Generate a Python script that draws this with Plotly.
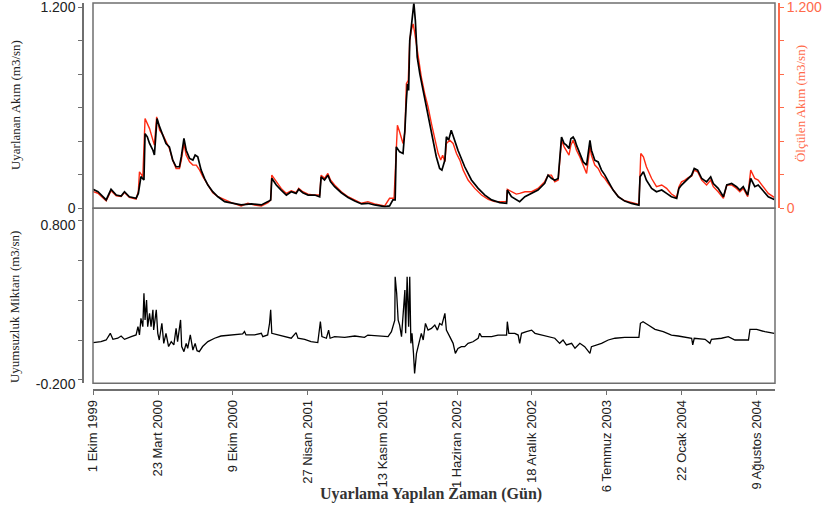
import pandas as pd
import plotly.graph_objects as go

START = "1999-10-01"

# Simulated (Uyarlanan) flow, m3/s  -- day offsets from 1 Oct 1999
sim_days = [0,13,35,48,62,75,84,97,115,121,128,136,139,145,151,160,164,171,178,187,195,204,213,222,231,236,243,249,258,267,273,280,289,298,307,320,334,352,370,396,423,450,468,475,478,490,503,517,530,543,550,561,575,593,606,610,619,628,635,646,664,682,700,718,735,753,780,793,802,808,811,820,829,834,838,841,844,847,851,858,862,867,874,883,892,900,909,918,927,933,941,945,951,958,967,976,994,1012,1030,1048,1066,1088,1106,1108,1119,1132,1141,1155,1173,1190,1208,1217,1226,1235,1244,1248,1253,1260,1266,1273,1278,1284,1289,1293,1302,1311,1320,1329,1333,1342,1351,1360,1369,1378,1391,1405,1422,1440,1460,1463,1472,1480,1494,1507,1521,1534,1547,1561,1567,1574,1583,1592,1601,1608,1617,1628,1641,1652,1659,1672,1686,1695,1708,1721,1730,1739,1751,1759,1770,1779,1793,1806,1822]
sim_vals = [0.113,0.099,0.050,0.113,0.079,0.073,0.099,0.069,0.060,0.089,0.189,0.169,0.446,0.427,0.387,0.347,0.318,0.536,0.486,0.427,0.387,0.367,0.288,0.248,0.248,0.308,0.417,0.347,0.298,0.288,0.318,0.308,0.228,0.179,0.139,0.099,0.069,0.040,0.030,0.020,0.026,0.020,0.040,0.050,0.179,0.139,0.109,0.079,0.099,0.089,0.113,0.093,0.079,0.079,0.069,0.188,0.169,0.198,0.159,0.129,0.093,0.065,0.044,0.026,0.030,0.020,0.010,0.014,0.050,0.050,0.367,0.337,0.327,0.466,0.645,0.744,0.704,1.002,1.081,1.226,1.121,0.903,0.803,0.704,0.605,0.506,0.407,0.308,0.238,0.228,0.288,0.427,0.407,0.466,0.407,0.347,0.248,0.169,0.119,0.079,0.050,0.034,0.030,0.109,0.069,0.050,0.040,0.069,0.089,0.109,0.149,0.198,0.179,0.168,0.178,0.307,0.426,0.387,0.377,0.357,0.416,0.426,0.406,0.377,0.327,0.277,0.258,0.406,0.347,0.287,0.277,0.228,0.198,0.158,0.109,0.069,0.043,0.029,0.019,0.188,0.218,0.168,0.119,0.099,0.109,0.089,0.069,0.059,0.119,0.139,0.158,0.178,0.198,0.238,0.228,0.178,0.158,0.188,0.148,0.119,0.069,0.139,0.148,0.129,0.109,0.129,0.079,0.178,0.129,0.139,0.099,0.069,0.053]

# Observed (Ölçülen) flow, m3/s
obs_days = [0,13,35,48,62,75,84,97,115,121,124,133,139,145,151,160,164,170,178,187,195,204,213,222,231,236,243,249,258,267,276,285,294,307,320,334,352,370,396,414,432,450,468,475,478,490,503,517,530,543,550,561,575,593,606,610,619,628,635,646,664,682,700,718,735,753,780,793,805,811,814,820,829,834,838,843,847,851,856,860,865,869,878,887,896,905,914,923,930,935,941,945,954,963,972,981,990,1003,1021,1039,1057,1074,1092,1106,1108,1119,1132,1141,1155,1173,1190,1208,1217,1226,1235,1244,1248,1253,1260,1266,1273,1278,1284,1289,1293,1302,1311,1320,1329,1333,1342,1351,1360,1369,1378,1391,1405,1422,1440,1460,1465,1472,1480,1494,1507,1521,1534,1547,1561,1567,1574,1583,1592,1601,1608,1617,1628,1641,1652,1659,1672,1686,1695,1708,1721,1730,1739,1751,1759,1770,1779,1793,1806,1822]
obs_vals = [0.100,0.090,0.045,0.105,0.075,0.070,0.095,0.065,0.055,0.100,0.218,0.189,0.536,0.506,0.476,0.407,0.377,0.546,0.466,0.437,0.397,0.357,0.288,0.238,0.238,0.288,0.387,0.318,0.278,0.258,0.258,0.228,0.188,0.139,0.093,0.069,0.050,0.034,0.014,0.030,0.020,0.014,0.034,0.050,0.198,0.159,0.119,0.089,0.105,0.093,0.119,0.099,0.085,0.079,0.079,0.198,0.179,0.208,0.169,0.139,0.099,0.069,0.050,0.030,0.040,0.026,0.014,0.060,0.060,0.347,0.496,0.456,0.387,0.456,0.744,0.764,1.002,1.061,1.101,1.052,0.982,0.903,0.784,0.685,0.605,0.506,0.417,0.327,0.288,0.317,0.278,0.387,0.407,0.387,0.327,0.288,0.228,0.169,0.119,0.079,0.054,0.040,0.040,0.040,0.113,0.099,0.085,0.089,0.099,0.099,0.119,0.159,0.198,0.198,0.158,0.168,0.287,0.406,0.367,0.347,0.317,0.377,0.406,0.377,0.347,0.307,0.258,0.208,0.367,0.317,0.258,0.238,0.198,0.178,0.148,0.109,0.069,0.045,0.033,0.023,0.327,0.307,0.248,0.178,0.129,0.139,0.119,0.085,0.065,0.129,0.158,0.168,0.184,0.192,0.228,0.218,0.168,0.139,0.168,0.129,0.099,0.059,0.139,0.139,0.119,0.099,0.119,0.069,0.228,0.178,0.168,0.129,0.089,0.065]

# Residual (Uyumsuzluk Miktarı), m3/s
res_days = [0,21,35,46,53,66,75,84,102,115,120,124,128,133,136,139,143,146,151,155,160,162,169,173,177,184,189,195,202,209,216,222,226,234,237,243,249,253,260,267,273,278,284,293,307,325,342,369,400,405,409,432,450,454,467,472,475,478,494,512,530,543,548,566,583,601,608,612,624,630,634,646,673,700,726,735,762,789,798,807,808,812,816,820,825,829,834,836,840,844,847,850,853,857,860,865,869,878,883,889,896,905,914,921,927,933,941,945,954,963,969,976,985,994,1003,1016,1030,1034,1039,1066,1083,1106,1108,1112,1128,1137,1141,1146,1159,1173,1182,1199,1217,1235,1248,1257,1266,1280,1289,1302,1315,1329,1333,1347,1360,1378,1396,1422,1460,1464,1471,1485,1503,1525,1547,1565,1583,1601,1604,1608,1637,1650,1654,1681,1699,1717,1753,1757,1775,1797,1822]
res_vals = [0.035,0.041,0.051,0.093,0.055,0.062,0.076,0.055,0.072,0.083,0.135,0.083,0.187,0.135,0.344,0.177,0.302,0.135,0.219,0.135,0.240,0.114,0.240,0.093,0.051,0.156,0.030,0.093,0.010,0.041,0.020,0.125,0.041,0.177,0.010,-0.022,0.030,-0.001,0.083,-0.012,0.030,-0.016,-0.022,0.010,0.041,0.062,0.076,0.083,0.089,0.104,0.083,0.083,0.093,0.072,0.083,0.156,0.240,0.093,0.083,0.076,0.062,0.097,0.062,0.055,0.041,0.035,0.166,0.072,0.062,0.113,0.062,0.072,0.068,0.076,0.068,0.082,0.076,0.072,0.103,0.176,0.448,0.344,0.176,0.145,0.072,0.218,0.365,0.093,0.448,0.134,0.448,0.030,0.093,-0.033,-0.159,-0.033,0.009,0.093,0.051,0.155,0.113,0.124,0.145,0.113,0.155,0.145,0.218,0.113,0.072,0.030,-0.033,-0.002,0.009,0.009,0.030,0.040,0.061,0.093,0.072,0.072,0.082,0.082,0.166,0.093,0.093,0.082,0.030,0.093,0.103,0.113,0.093,0.082,0.072,0.062,0.030,0.051,0.020,0.030,-0.001,0.030,0.009,-0.033,0.009,0.020,0.030,0.051,0.062,0.068,0.068,0.156,0.166,0.145,0.118,0.103,0.082,0.076,0.068,0.062,0.020,0.062,0.055,0.030,0.055,0.062,0.072,0.051,0.051,0.118,0.118,0.103,0.093]

tick_dates = ["1999-10-01","2000-03-23","2000-10-09","2001-04-27","2001-11-13",
              "2002-06-01","2002-12-18","2003-07-06","2004-01-22","2004-08-09"]
tick_labels = ["1 Ekim 1999","23 Mart 2000","9 Ekim 2000","27 Nisan 2001","13 Kasım 2001",
               "1 Haziran 2002","18 Aralık 2002","6 Temmuz 2003","22 Ocak 2004","9 Ağustos 2004"]

top_ticks = [0, 0.2, 0.4, 0.6, 0.8, 1.0, 1.2]
top_ticktext = ["0", "", "", "", "", "", "1.200"]
bot_ticks = [-0.2, 0.05, 0.3, 0.55, 0.8]
bot_ticktext = ["-0.200", "", "", "", "0.800"]

def to_dates(days):
    return pd.Timestamp(START) + pd.to_timedelta(days, unit="D")

RED = "#ff2a12"
RED_AX = "#ff6a4a"
GRAY = "#6f6f6f"
SANS = "Liberation Sans, Arial, sans-serif"
SERIF = "Liberation Serif, Times New Roman, serif"

fig = go.Figure()
fig.add_trace(go.Scatter(x=to_dates(obs_days), y=obs_vals, mode="lines",
                         line=dict(color=RED, width=1.4), xaxis="x", yaxis="y",
                         name="Ölçülen"))
fig.add_trace(go.Scatter(x=to_dates(sim_days), y=sim_vals, mode="lines",
                         line=dict(color="#000000", width=1.7), xaxis="x", yaxis="y3",
                         name="Uyarlanan"))
fig.add_trace(go.Scatter(x=to_dates(res_days), y=res_vals, mode="lines",
                         line=dict(color="#000000", width=1.3), xaxis="x", yaxis="y2",
                         name="Uyumsuzluk"))

yax_common = dict(anchor="free", position=0, showline=True, linecolor=GRAY, linewidth=1.5,
                  ticks="outside", ticklen=4, tickcolor=GRAY, tickwidth=1.2,
                  showgrid=False, zeroline=False, ticklabeloverflow="allow",
                  automargin=False,
                  tickfont=dict(family=SANS, size=14, color="#222"))

fig.update_layout(
    width=833, height=509,
    margin=dict(l=83, r=50, t=3, b=119, autoexpand=False),
    paper_bgcolor="white", plot_bgcolor="white",
    showlegend=False,
    xaxis=dict(type="date", domain=[0.01429, 0.98857],
               range=["1999-09-30 18:00", "2004-09-28"],
               anchor="free", position=0, showline=True, linecolor=GRAY, linewidth=1.5,
               ticks="outside", ticklen=4, tickcolor=GRAY, tickwidth=1.2,
               tickvals=tick_dates, ticktext=tick_labels, tickangle=-90,
               ticklabeloverflow="allow", automargin=False,
               tickfont=dict(family=SANS, size=13, color="#222"),
               showgrid=False, zeroline=False),
    yaxis=dict(domain=[0.4695, 1.0], range=[0, 1.226],
               tickvals=top_ticks, ticktext=top_ticktext, **yax_common),
    yaxis2=dict(domain=[0.0173, 0.4695], range=[-0.221, 0.878],
                tickvals=bot_ticks, ticktext=bot_ticktext, ticklabelshift=4, **yax_common),
    yaxis3=dict(overlaying="y", side="right", anchor="free", position=0.9947,
                range=[0, 1.226], tickvals=top_ticks, ticktext=top_ticktext,
                showline=True, linecolor=RED_AX, linewidth=1.5,
                ticks="outside", ticklen=4, tickcolor=RED_AX, tickwidth=1.2,
                showgrid=False, zeroline=False, ticklabeloverflow="allow",
                automargin=False,
                tickfont=dict(family=SANS, size=14, color=RED_AX)),
    shapes=[
        dict(type="rect", xref="x domain", yref="y domain", x0=0, x1=1, y0=0, y1=1,
             line=dict(color=GRAY, width=1.5)),
        dict(type="rect", xref="x domain", yref="y2 domain", x0=0, x1=1, y0=0, y1=1,
             line=dict(color=GRAY, width=1.5)),
    ],
    annotations=[
        dict(text="Uyarlanan Akım (m3/sn)", xref="paper", yref="paper",
             x=-0.0971, y=0.7364, xanchor="center", yanchor="middle",
             textangle=-90, showarrow=False,
             font=dict(family=SERIF, size=13, color="#222")),
        dict(text="Uyumsuzluk Miktarı (m3/sn)", xref="paper", yref="paper",
             x=-0.0971, y=0.2145, xanchor="center", yanchor="middle",
             textangle=-90, showarrow=False,
             font=dict(family=SERIF, size=13, color="#222")),
        dict(text="Ölçülen Akım (m3/sn)", xref="paper", yref="paper",
             x=1.0243, y=0.739, xanchor="center", yanchor="middle",
             textangle=-90, showarrow=False,
             font=dict(family=SERIF, size=13, color=RED_AX)),
        dict(text="Uyarlama Yapılan Zaman (Gün)", xref="paper", yref="paper",
             x=0.497, y=-0.2687, xanchor="center", yanchor="middle", showarrow=False,
             font=dict(family=SERIF, size=16, color="#333", weight="bold")),
    ],
)

fig.write_html("out.html", config={"displayModeBar": False},
               post_script="document.body.style.margin='0px';")
